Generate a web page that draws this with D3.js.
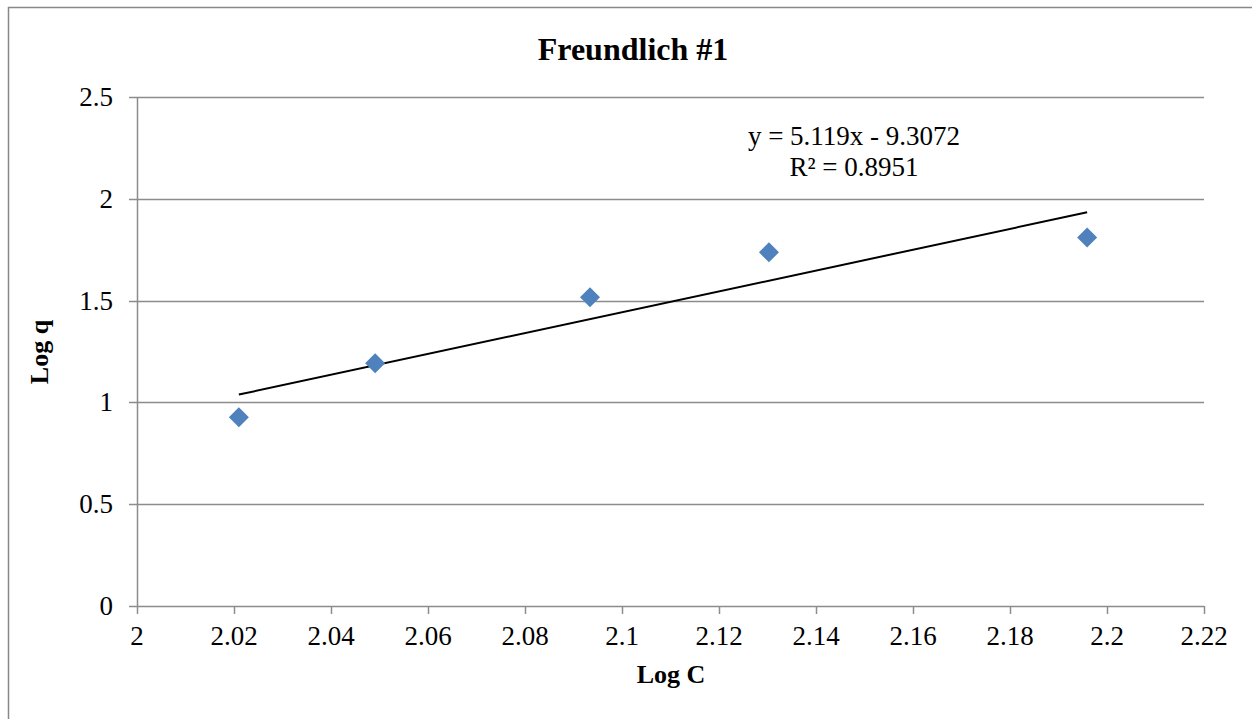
<!DOCTYPE html>
<html><head><meta charset="utf-8">
<script src="https://cdn.jsdelivr.net/npm/d3@7"></script>
<style>body{margin:0;background:#fff;} text{font-family:"Liberation Serif","Times New Roman",serif;fill:#000;}</style>
</head><body>
<svg id="c" width="1252" height="719"></svg>
<script>
const logC = [2.0210, 2.0491, 2.0934, 2.1303, 2.1959];
const logQ = [0.927, 1.192, 1.516, 1.737, 1.810];
const slope = 5.119, intercept = -9.3072;
const xTicks = [2,2.02,2.04,2.06,2.08,2.1,2.12,2.14,2.16,2.18,2.2,2.22];
const yTicks = [0,0.5,1,1.5,2,2.5];
const titleText = "Freundlich #1";
const xLabel = "Log C", yLabel = "Log q";
const eqText = "y = 5.119x - 9.3072", r2Text = "R² = 0.8951";

const svg = d3.select("#c");
svg.append("rect").attr("x",8.5).attr("y",7.5).attr("width",1260).attr("height",730)
  .attr("fill","none").attr("stroke","#888").attr("stroke-width",1.5);
const L=137,R=1204,T=97,B=606;
const x = d3.scaleLinear().domain([2,2.22]).range([L,R]);
const y = d3.scaleLinear().domain([0,2.5]).range([B,T]);

svg.append("g").selectAll("line").data(yTicks).join("line")
  .attr("x1",L-8).attr("x2",R).attr("y1",d=>Math.round(y(d))+0.5).attr("y2",d=>Math.round(y(d))+0.5)
  .attr("stroke","#8c8c8c").attr("stroke-width",1.5);
svg.append("line").attr("x1",L+0.5).attr("x2",L+0.5).attr("y1",T).attr("y2",B)
  .attr("stroke","#8c8c8c").attr("stroke-width",1.5);
svg.append("g").selectAll("line").data(xTicks).join("line")
  .attr("x1",d=>Math.round(x(d))+0.5).attr("x2",d=>Math.round(x(d))+0.5).attr("y1",B).attr("y2",B+8)
  .attr("stroke","#8c8c8c").attr("stroke-width",1.5);
svg.append("g").selectAll("text").data(yTicks).join("text")
  .attr("x",113).attr("y",d=>y(d)+9).attr("text-anchor","end").attr("font-size",27).text(d=>d);
svg.append("g").selectAll("text").data(xTicks).join("text")
  .attr("x",d=>x(d)).attr("y",645).attr("text-anchor","middle").attr("font-size",27).text(d=>d);

const x0=d3.min(logC), x1=d3.max(logC);
svg.append("line").attr("x1",x(x0)).attr("y1",y(slope*x0+intercept))
  .attr("x2",x(x1)).attr("y2",y(slope*x1+intercept)).attr("stroke","#000").attr("stroke-width",2);

svg.append("g").selectAll("path").data(logC).join("path")
  .attr("d",d3.symbol().type(d3.symbolSquare).size(200))
  .attr("transform",(d,i)=>`translate(${x(d)},${y(logQ[i])}) rotate(45)`)
  .attr("fill","#4F81BD");

svg.append("text").attr("x",633).attr("y",60).attr("text-anchor","middle").attr("font-size",32).attr("font-weight","bold").text(titleText);
svg.append("text").attr("x",671).attr("y",683).attr("text-anchor","middle").attr("font-size",26).attr("font-weight","bold").text(xLabel);
svg.append("text").attr("transform","translate(48,352) rotate(-90)").attr("text-anchor","middle").attr("font-size",26).attr("font-weight","bold").text(yLabel);
svg.append("text").attr("x",854).attr("y",145).attr("text-anchor","middle").attr("font-size",27).text(eqText);
svg.append("text").attr("x",854).attr("y",176).attr("text-anchor","middle").attr("font-size",27).text(r2Text);
</script>
</body></html>
